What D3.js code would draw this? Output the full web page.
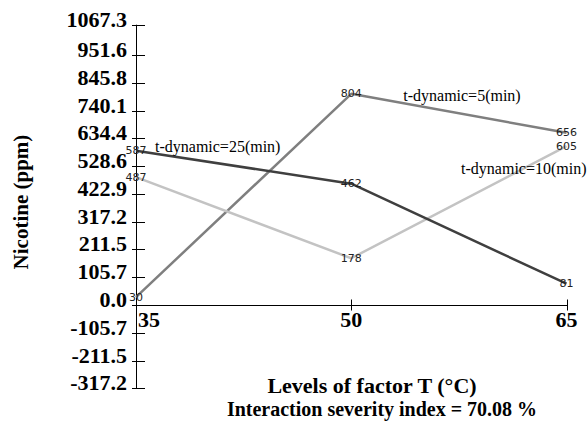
<!DOCTYPE html>
<html>
<head>
<meta charset="utf-8">
<script src="https://cdn.jsdelivr.net/npm/d3@7/dist/d3.min.js"></script>
<style>
  html, body { margin: 0; padding: 0; background: #ffffff; }
  svg { display: block; }
</style>
</head>
<body>
<svg id="chart" width="587" height="426"></svg>
<script>
// Levels of temperature factor T (°C)
const levels = [35, 50, 65];

// Nicotine (ppm) per dynamic extraction time
const seriesNames = ["t-dynamic=5(min)", "t-dynamic=10(min)", "t-dynamic=25(min)"];
const values5 = [30, 804, 656];
const values10 = [487, 178, 605];
const values25 = [587, 462, 81];

// Y axis tick values and labels
const yTicks = [-317.2, -211.5, -105.7, 0.0, 105.7, 211.5, 317.2, 422.9, 528.6, 634.4, 740.1, 845.8, 951.6, 1067.3];
const xTickLabels = ["35", "50", "65"];

const series = [
  { name: seriesNames[0], values: values5,  color: "#7f7f7f" },
  { name: seriesNames[1], values: values10, color: "#c3c3c3" },
  { name: seriesNames[2], values: values25, color: "#3f3f3f" }
];

const svg = d3.select("#chart");

const x = d3.scalePoint().domain(levels).range([136, 566.5]);
const y = d3.scaleLinear().domain([-317.2, 1067.3]).range([388.3, 24.7]);

const serif = "'Liberation Serif', 'Times New Roman', serif";

// Y axis: vertical line with ticks crossing it
const yAxis = svg.append("g").attr("stroke", "#000").attr("stroke-width", 1);
yAxis.append("line")
  .attr("x1", x(35) + 0.5).attr("x2", x(35) + 0.5)
  .attr("y1", y(1067.3)).attr("y2", y(-317.2));
yAxis.selectAll("line.tick").data(yTicks).join("line")
  .attr("class", "tick")
  .attr("x1", x(35) - 4).attr("x2", x(35) + 9)
  .attr("y1", d => Math.round(y(d)) + 0.5).attr("y2", d => Math.round(y(d)) + 0.5);

svg.append("g").selectAll("text").data(yTicks).join("text")
  .attr("x", 127)
  .attr("y", d => y(d) + 2)
  .attr("text-anchor", "end")
  .attr("font-family", serif)
  .attr("font-weight", "bold")
  .attr("font-size", 22)
  .attr("fill", "#000")
  .text(d => d.toFixed(1));

// X axis along the zero line
const zeroY = Math.round(y(0)) + 0.5;
const xAxis = svg.append("g").attr("stroke", "#000").attr("stroke-width", 1);
xAxis.append("line")
  .attr("x1", x(35)).attr("x2", x(65) + 0.5)
  .attr("y1", zeroY).attr("y2", zeroY);
xAxis.selectAll("line.tick").data(levels).join("line")
  .attr("class", "tick")
  .attr("x1", d => Math.round(x(d)) + 0.5).attr("x2", d => Math.round(x(d)) + 0.5)
  .attr("y1", zeroY - 6).attr("y2", zeroY + 5);

svg.append("g").selectAll("text").data(levels).join("text")
  .attr("x", (d, i) => i === 0 ? x(d) + 2 : x(d))
  .attr("y", y(0) + 22)
  .attr("text-anchor", (d, i) => i === 0 ? "start" : "middle")
  .attr("font-family", serif)
  .attr("font-weight", "bold")
  .attr("font-size", 22)
  .attr("fill", "#000")
  .text((d, i) => xTickLabels[i]);

// Series lines
const line = d3.line()
  .x((d, i) => x(levels[i]))
  .y(d => y(d));

svg.append("g").selectAll("path").data(series).join("path")
  .attr("d", s => line(s.values))
  .attr("fill", "none")
  .attr("stroke", s => s.color)
  .attr("stroke-width", 2.5)
  .attr("stroke-linejoin", "round");

// Value labels at each point
const points = series.flatMap(s => s.values.map((v, i) => ({ v, lvl: levels[i] })));
svg.append("g").selectAll("text").data(points).join("text")
  .attr("x", d => x(d.lvl))
  .attr("y", d => y(d.v))
  .attr("text-anchor", "middle")
  .attr("dominant-baseline", "central")
  .attr("font-family", "'DejaVu Sans', sans-serif")
  .attr("font-size", 11)
  .attr("fill", "#222")
  .text(d => d.v);

// Series name labels, placed next to their lines
const namePlacement = [
  { at: 1, dx: 52,  dy: 7,  anchor: "start" },
  { at: 2, dx: 20,  dy: 28, anchor: "end" },
  { at: 0, dx: 19,  dy: 1,  anchor: "start" }
];
svg.append("g").selectAll("text").data(series).join("text")
  .attr("x", (s, i) => x(levels[namePlacement[i].at]) + namePlacement[i].dx)
  .attr("y", (s, i) => y(s.values[namePlacement[i].at]) + namePlacement[i].dy)
  .attr("text-anchor", (s, i) => namePlacement[i].anchor)
  .attr("font-family", serif)
  .attr("font-size", 16)
  .attr("fill", "#000")
  .text(s => s.name);

// Axis titles
svg.append("text")
  .attr("transform", "translate(28,202) rotate(-90)")
  .attr("text-anchor", "middle")
  .attr("font-family", serif)
  .attr("font-weight", "bold")
  .attr("font-size", 21)
  .attr("fill", "#000")
  .text("Nicotine (ppm)");

svg.append("text")
  .attr("x", 372).attr("y", 393)
  .attr("text-anchor", "middle")
  .attr("font-family", serif)
  .attr("font-weight", "bold")
  .attr("font-size", 22)
  .attr("fill", "#000")
  .text("Levels of factor T (°C)");

svg.append("text")
  .attr("x", 382).attr("y", 416)
  .attr("text-anchor", "middle")
  .attr("font-family", serif)
  .attr("font-weight", "bold")
  .attr("font-size", 20)
  .attr("fill", "#000")
  .text("Interaction severity index = 70.08 %");
</script>
</body>
</html>
